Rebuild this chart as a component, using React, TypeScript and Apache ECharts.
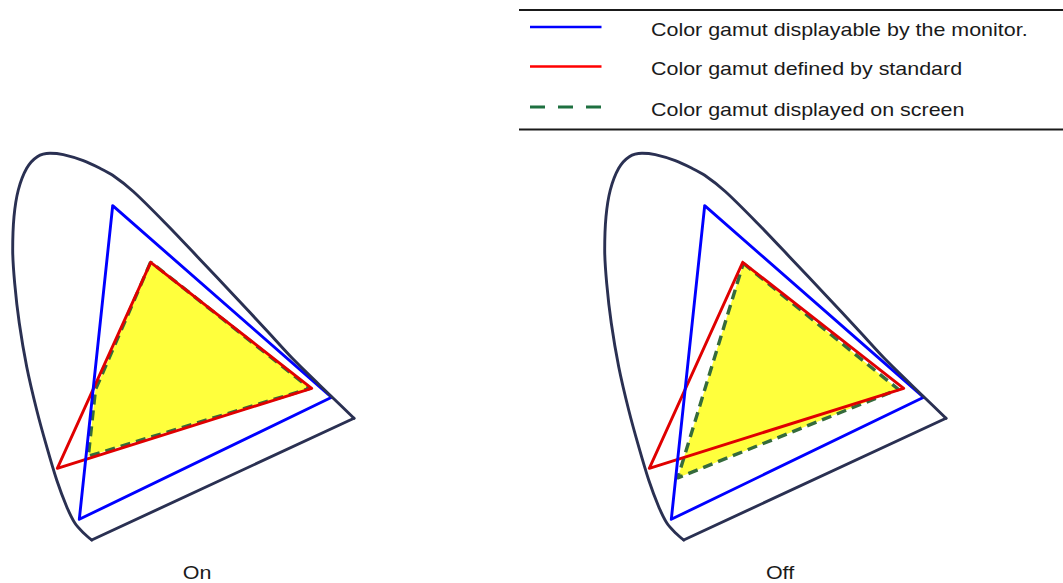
import React, { useEffect, useRef } from "react";
import * as echarts from "echarts";

// Local panel coordinates (same units in both panels)
const LOCUS_CURVE: [number, number][] = [
  [91.7, 400], [83.3, 392.7], [75, 383.3], [66.7, 366.7], [56.7, 340], [46.7, 306.7],
  [36.7, 270], [26.7, 226.7], [19.3, 183.3], [14.7, 143.3], [12.7, 110], [14, 76.7],
  [18.3, 50], [26.7, 28.3], [37.3, 16.7], [50, 13.3], [63.3, 14.7], [83.3, 20.7],
  [100, 28.3], [112.7, 35.3], [133.3, 51.5], [166.7, 84.5], [200, 119.5], [233.3, 154.7],
  [266.7, 190.5], [293.3, 219.3], [331.7, 256.7], [354, 278.3],
];
const PURPLE_LINE: [number, number][] = [[354, 278.3], [91.7, 400]];
const MONITOR: [number, number][] = [[112.7, 65.7], [331.7, 257.3], [79.3, 379.3]];
const STANDARD: [number, number][] = [[150.7, 122.3], [311.7, 248.3], [57.3, 328.3]];
const SCREEN_ON: [number, number][] = [[150.7, 122], [95.5, 249.5], [88.3, 316.3], [310, 248.3]];
const SCREEN_OFF: [number, number][] = [[151.3, 123.3], [306.3, 249.3], [85.8, 337.8]];

const SERIES_NAMES = [
  "Color gamut displayable by the monitor.",
  "Color gamut defined by standard",
  "Color gamut displayed on screen",
];
const PANEL_LABELS = ["On", "Off"];

const closed = (pts: [number, number][]) => [...pts, pts[0]];

const FONT = "'Liberation Sans', Arial, Helvetica, sans-serif";
const TEXT_SCALE = 1.16;

export default function App() {
  const ref = useRef<HTMLDivElement>(null);
  useEffect(() => {
    document.body.style.margin = "0";
    if (!ref.current) return;
    const chart = echarts.init(ref.current, undefined, { renderer: "svg" });
    const screens = [SCREEN_ON, SCREEN_OFF];
    const series: any[] = [];
    const base = (i: number) => ({
      type: "line",
      xAxisIndex: i,
      yAxisIndex: i,
      symbol: "none",
      silent: true,
      clip: false,
    });
    screens.forEach((scr, i) => {
      series.push({
        type: "custom",
        xAxisIndex: i,
        yAxisIndex: i,
        silent: true,
        data: scr,
        renderItem: (params: any, api: any) => {
          if (params.dataIndex !== 0) return null;
          return {
            type: "polygon",
            shape: { points: scr.map((p) => api.coord(p)) },
            style: { fill: "#ffff3c" },
          };
        },
      });
      series.push({
        ...base(i),
        name: SERIES_NAMES[2],
        data: closed(scr),
        lineStyle: { color: "#356b3c", width: 3.4, type: [10, 6], join: "round", cap: "butt" },
      });
      series.push({
        ...base(i),
        name: SERIES_NAMES[1],
        data: closed(STANDARD),
        lineStyle: { color: "#e00000", width: 2.9, join: "round", cap: "round" },
      });
      series.push({
        ...base(i),
        name: SERIES_NAMES[0],
        data: closed(MONITOR),
        lineStyle: { color: "#0000ff", width: 2.9, join: "round", cap: "round" },
      });
      series.push({
        ...base(i),
        name: "locus",
        data: LOCUS_CURVE,
        smooth: 0.3,
        lineStyle: { color: "#2a3052", width: 2.9, join: "round", cap: "round" },
      });
      series.push({
        ...base(i),
        name: "purple line",
        data: PURPLE_LINE,
        lineStyle: { color: "#2a3052", width: 2.9, join: "round", cap: "round" },
      });
    });

    const textItem = (text: string, x: number, y: number, align: string) => ({
      type: "text",
      x,
      y,
      scaleX: TEXT_SCALE,
      style: {
        text,
        fill: "#1a1a1a",
        font: `18.5px ${FONT}`,
        textAlign: align,
        textVerticalAlign: "middle",
        verticalAlign: "middle",
      },
    });

    const legendRows = [27, 66.5, 107];
    const legendColors = ["#0000ff", "#ff0000", "#1e7040"];
    const graphic: any[] = [
      { type: "line", shape: { x1: 519, y1: 10, x2: 1063, y2: 10 }, style: { stroke: "#1a1a1a", lineWidth: 1.8 } },
      { type: "line", shape: { x1: 519, y1: 129.5, x2: 1063, y2: 129.5 }, style: { stroke: "#1a1a1a", lineWidth: 1.8 } },
    ];
    SERIES_NAMES.forEach((name, k) => {
      graphic.push({
        type: "line",
        shape: { x1: 530, y1: legendRows[k], x2: 601.5, y2: legendRows[k] },
        style: {
          stroke: legendColors[k],
          lineWidth: k === 2 ? 2.8 : 2.4,
          lineDash: k === 2 ? [15, 13] : null,
        },
      });
      graphic.push(textItem(name, 651, legendRows[k] + 2.3, "left"));
    });
    graphic.push(textItem(PANEL_LABELS[0], 197, 573, "center"));
    graphic.push(textItem(PANEL_LABELS[1], 780, 573, "center"));

    chart.setOption({
      animation: false,
      grid: [
        { left: 0, top: 140, width: 360, height: 410 },
        { left: 592, top: 140, width: 360, height: 410 },
      ],
      xAxis: [0, 1].map((i) => ({ type: "value", gridIndex: i, min: 0, max: 360, show: false })),
      yAxis: [0, 1].map((i) => ({ type: "value", gridIndex: i, min: 0, max: 410, inverse: true, show: false })),
      series,
      graphic,
    });
    return () => chart.dispose();
  }, []);
  return <div ref={ref} style={{ width: 1063, height: 583 }} />;
}
